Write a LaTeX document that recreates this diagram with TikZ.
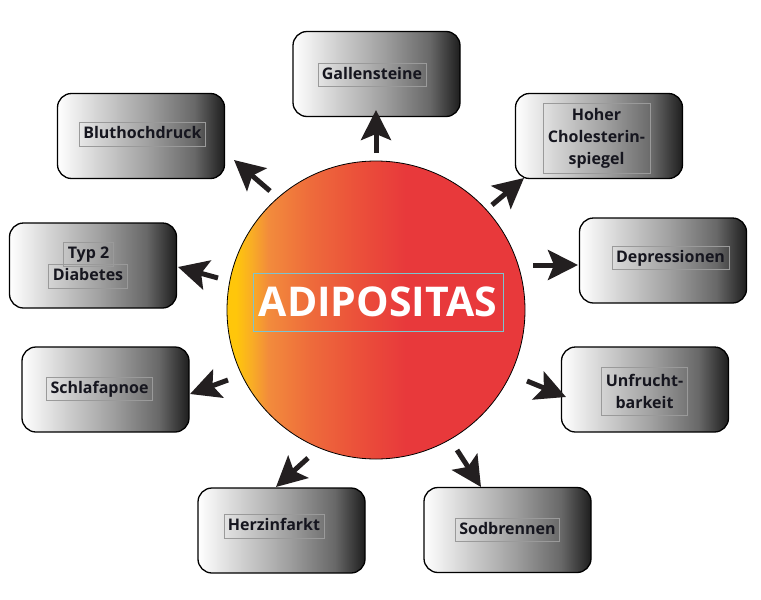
\documentclass[tikz,border=0pt]{standalone}
\usepackage{fontspec}
\setmainfont{Open Sans}
\usetikzlibrary{arrows.meta}
\definecolor{txt}{HTML}{16161F}
\definecolor{bmidA}{HTML}{D0D0D0}
\definecolor{bmidB}{HTML}{A0A0A0}
\definecolor{bmidC}{HTML}{686868}
\definecolor{bdark}{HTML}{1E1E1E}
\definecolor{cyel}{HTML}{FFC60B}
\definecolor{corA}{HTML}{F9AE24}
\definecolor{corB}{HTML}{F28B3C}
\definecolor{corC}{HTML}{EE6B3B}
\definecolor{corD}{HTML}{EB503A}
\definecolor{cred}{HTML}{E8393B}
\definecolor{arrc}{HTML}{231F20}
\definecolor{frm}{HTML}{9A9A9A}
\definecolor{adifrm}{HTML}{7CC4CF}
\pgfdeclarehorizontalshading{boxshade}{100bp}{color(0bp)=(white); color(25bp)=(white); color(38bp)=(bmidA); color(52bp)=(bmidB); color(66bp)=(bmidC); color(75bp)=(bdark); color(100bp)=(bdark)}
\pgfdeclarehorizontalshading{circshade}{100bp}{color(0bp)=(cyel); color(25bp)=(cyel); color(26.5bp)=(cyel); color(29bp)=(corA); color(32bp)=(corB); color(39bp)=(corC); color(47bp)=(corD); color(55bp)=(cred); color(100bp)=(cred)}
\tikzset{
  box/.style={draw=black, line width=1.3pt, rounded corners=14pt, shading=boxshade,
    minimum width=167pt, minimum height=85pt},
  lblbase/.style={draw=frm, line width=0.7pt, text=txt, align=center,
    font=\bfseries\fontsize{16}{22}\selectfont, inner xsep=4pt, inner ysep=4pt},
  lbl/.style={lblbase, text height=12pt, text depth=3.5pt},
  arr/.style={draw=arrc, line width=5pt,
    -{Stealth[length=30pt,width=30pt,inset=6pt]}}
}
\begin{document}
\begin{tikzpicture}[x=1pt,y=-1pt]
\useasboundingbox (0,0) rectangle (761,600);
% central circle
\node[circle, draw=black, line width=0.8pt, minimum size=298pt, inner sep=0pt, shading=circshade] (c) at (376,310) {};
\node[draw=adifrm, line width=0.8pt, minimum width=250pt, minimum height=58pt, text=white,
  font=\bfseries\fontsize{41}{41}\selectfont, inner sep=0pt] (adi) at (378,302) {ADIPOSITAS};
% boxes
\node[box] (gal) at (376.5,74) {};
\node[box] (blu) at (141,136) {};
\node[box] (hoh) at (599,136) {};
\node[box] (typ) at (93,265.5) {};
\node[box] (dep) at (663,260.5) {};
\node[box] (sch) at (105.5,389.5) {};
\node[box] (unf) at (645,389.5) {};
\node[box] (her) at (281.5,530.5) {};
\node[box] (sod) at (507.5,530) {};
% labels
\node[lbl] (galt) at (372,75) {Gallensteine};
\node[lbl] (blut) at (142.5,134.5) {Bluthochdruck};
\node[lblbase, minimum width=107pt, minimum height=70pt] (hoht) at (596.5,138) {Hoher\\Cholesterin-\\spiegel};
\node[lbl] (typt1) at (88.5,254.5) {Typ 2};
\node[lbl] (typt2) at (88,276.5) {Diabetes};
\node[lbl] (dept) at (670.5,258) {Depressionen};
\node[lbl] (scht) at (99.5,389) {Schlafapnoe};
\node[lblbase, minimum width=85pt, minimum height=48pt] (unft) at (644.5,391) {Unfrucht-\\barkeit};
\node[lbl] (hert) at (274,526.5) {Herzinfarkt};
\node[lbl] (sodt) at (507.5,530) {Sodbrennen};
% arrow ends
\coordinate (galS) at (376,153); \coordinate (galE) at (376,110);
\coordinate (bluS) at (270,191); \coordinate (bluE) at (234,160);
\coordinate (hohS) at (492,205); \coordinate (hohE) at (524,178);
\coordinate (depS) at (533,265); \coordinate (depE) at (578,265);
\coordinate (unfS) at (527,381); \coordinate (unfE) at (566,397);
\coordinate (sodS) at (457,450); \coordinate (sodE) at (481,487);
\coordinate (herS) at (308,458); \coordinate (herE) at (276,487);
\coordinate (schS) at (228,380); \coordinate (schE) at (190,394);
\coordinate (typS) at (218,278); \coordinate (typE) at (178,267);
\draw[arr] (galS) -- (galE);
\draw[arr] (bluS) -- (bluE);
\draw[arr] (hohS) -- (hohE);
\draw[arr] (depS) -- (depE);
\draw[arr] (unfS) -- (unfE);
\draw[arr] (sodS) -- (sodE);
\draw[arr] (herS) -- (herE);
\draw[arr] (schS) -- (schE);
\draw[arr] (typS) -- (typE);
\end{tikzpicture}
\end{document}
